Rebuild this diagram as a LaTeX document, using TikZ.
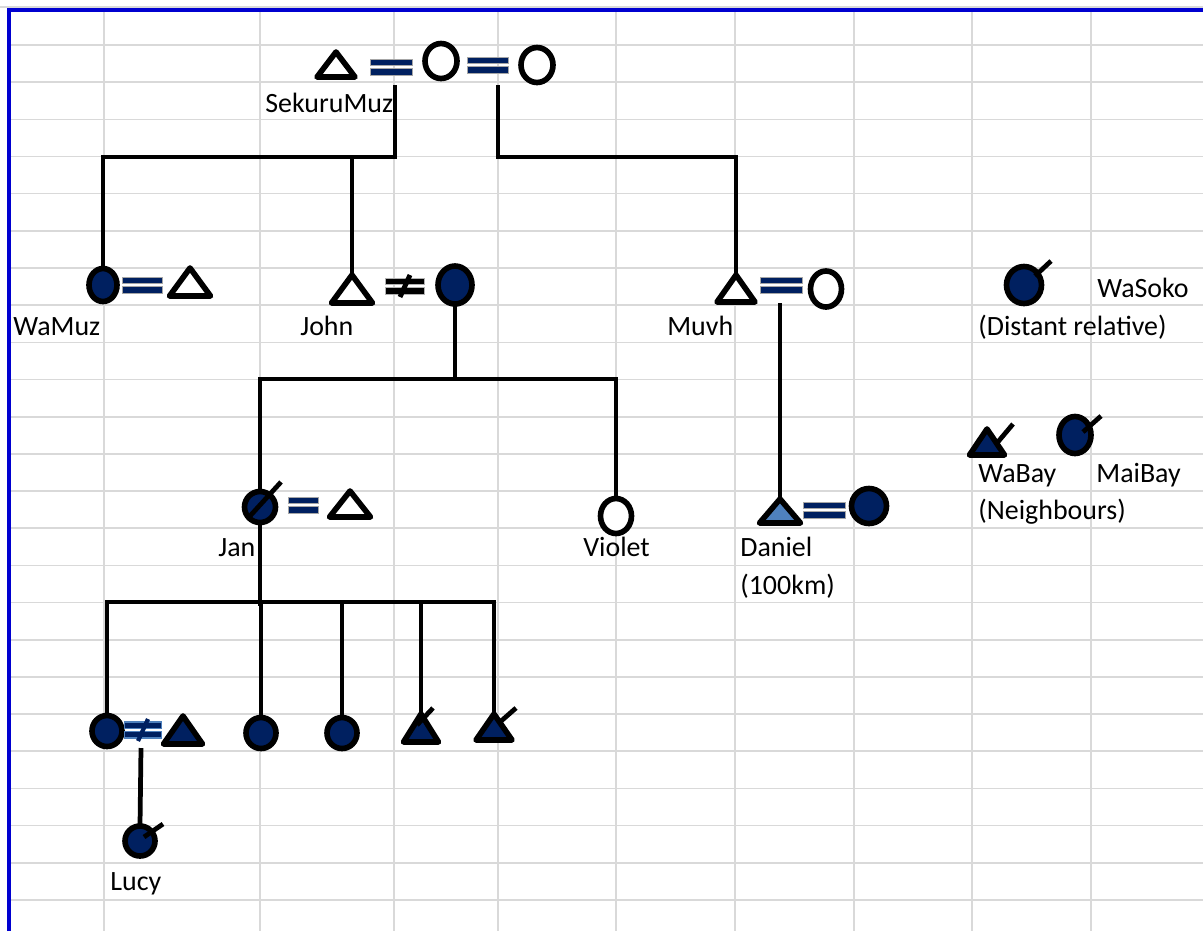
\documentclass[tikz,border=0pt]{standalone}
\usepackage{fontspec}
\setmainfont{Carlito}
\usetikzlibrary{shapes.geometric}

\definecolor{navy}{HTML}{002060}
\definecolor{steel}{HTML}{4F81BD}
\definecolor{gridgray}{HTML}{D9D9D9}
\definecolor{sheetblue}{HTML}{0000D0}

\tikzset{
	link/.style={line width=2.7pt},
	person/.style={draw, line width=3.2pt, inner sep=0pt, outer sep=0pt, fill=white},
	sz/.style 2 args={minimum width={(#1)*0.02cm}, minimum height={(#2)*0.02cm}},
	female/.style={person, ellipse},
	male/.style={person, isosceles triangle, isosceles triangle stretches, shape border rotate=90, line join=round},
	dark/.style={fill=navy},
	lbl/.style={font=\fontsize{15.9}{18}\selectfont, inner sep=0pt, anchor=base west},
	bar/.style={fill=navy, draw=gray!70, line width=0.5pt},
	slash/.style={line width=2.4pt, navy},
	barlen/.store in=\barlen, barlen=21,
	wed/.pic={
		\filldraw[bar] (-\barlen,-8) rectangle (\barlen,-1.5);
		\filldraw[bar] (-\barlen,1.5) rectangle (\barlen,8);
	},
	split/.pic={
		\filldraw[bar] (-\barlen,-8) rectangle (\barlen,-1.5);
		\filldraw[bar] (-\barlen,1.5) rectangle (\barlen,8);
		\draw[slash] (-5,11) -- (5,-11);
	}
}

\begin{document}
\begin{tikzpicture}[x=0.02cm, y=-0.02cm]
	\useasboundingbox (0,0) rectangle (1203,931);

	% sheet
	\foreach \gx in {104,260,394,498,616,735,854,972,1091}
		\draw[gridgray, line width=0.9pt] (\gx,10) -- (\gx,931);
	\foreach \k in {0,...,23}
		\draw[gridgray, line width=0.9pt] (9,{45+37.17*\k}) -- (1203,{45+37.17*\k});
	\draw[gridgray, line width=0.9pt] (0,7) -- (1203,7);
	\draw[sheetblue, line width=1.8pt] (9,931) -- (9,10) -- (1203,10);

	% grandparents
	\node[male, sz={38}{25}, anchor=apex] (sekuru) at (336,52) {};
	\pic at (391,67) {wed};
	\node[female, sz={32}{35}] (wife1) at (441,61) {};
	\pic[barlen=20.5] at (488,65) {wed};
	\node[female, sz={32}{35}] (wife2) at (537,65) {};
	\coordinate (stemA) at (395,85);
	\coordinate (stemB) at (498,85);
	\coordinate (busA) at (0,157);

	% children
	\node[female, dark, sz={28}{33}] (wamuz) at (103,285) {};
	\pic[barlen=20] at (142,285) {wed};
	\node[male, sz={41}{28}, anchor=apex] (wamuzh) at (190,268) {};
	\node[male, sz={41}{28}, anchor=apex] (john) at (352,275) {};
	\pic[barlen=19.5, bar/.style={fill=black, draw=gray!60, line width=0.5pt}, slash/.style={line width=2.8pt, black}] at (405,286) {split};
	\node[female, dark, sz={34}{38}] (johnw) at (455,285) {};
	\node[male, sz={38}{27}, anchor=apex] (muvh) at (736,275) {};
	\pic at (781,285) {wed};
	\node[female, sz={31}{36}] (muvhw) at (826,289) {};
	\coordinate (stemC) at (780,303);
	\coordinate (busB) at (0,379);

	\node[female, dark, sz={35}{37}] (wasoko) at (1024,285) {};
	\node[male, dark, sz={35}{26}, anchor=apex] (wabay) at (987,429) {};
	\node[female, dark, sz={32}{37}] (maibay) at (1075,435) {};

	% grandchildren
	\node[female, dark, sz={31}{31}] (jan) at (260,507) {};
	\pic[barlen=15] at (303,505) {wed};
	\node[male, sz={41}{26}, anchor=apex] (janh) at (350,491) {};
	\node[female, sz={31}{35}] (violet) at (616,516) {};
	\node[male, fill=steel, sz={41}{24}, anchor=apex] (daniel) at (780,499) {};
	\pic at (824,510) {wed};
	\node[female, dark, sz={35}{35}] (danielw) at (869,506) {};
	\coordinate (busC) at (0,602);

	\node[female, dark, sz={30}{31}] (kid1) at (107,731) {};
	\pic[barlen=18.5, bar/.style={fill=navy, draw=steel, line width=0.8pt}] at (143,730) {split};
	\node[male, dark, sz={39}{28}, anchor=apex] (kid1h) at (183,716) {};
	\node[female, dark, sz={30}{31}] (kid2) at (261,733) {};
	\node[female, dark, sz={30}{31}] (kid3) at (342,733) {};
	\node[male, dark, sz={35}{28}, anchor=apex] (kid4) at (421,714) {};
	\node[male, dark, sz={36}{26}, anchor=apex] (kid5) at (494,714) {};
	\coordinate (stemD) at (141,748);
	\node[female, dark, sz={30}{30}] (lucy) at (140,841) {};

	% lines of descent
	\draw[link] (stemA) |- (wamuz.north |- busA) -- (wamuz.north);
	\draw[link] (john.apex |- busA) -- (john.apex);
	\draw[link] (stemB) |- (muvh.apex |- busA) -- (muvh.apex);
	\draw[link] (johnw.south) -- (johnw.south |- busB);
	\draw[link] (jan.north) |- (violet.north |- busB) -- (violet.north);
	\draw[link] (stemC) -- (daniel.apex);
	\draw[link] (jan.south) -- ([yshift=-2pt]jan.south |- busC);
	\draw[link] (kid1.north) |- (kid5.apex |- busC) -- (kid5.apex);
	\foreach \k in {kid2.north, kid3.north, kid4.apex}
		\draw[link] (\k |- busC) -- (\k);
	\draw[link] (stemD) -- (lucy.north);

	% contact ticks
	\draw[link] ([shift={(11,-9)}]wasoko.center) -- ++(16,-15);
	\draw[link] ([shift={(-10,9)}]jan.center) -- ++(31,-34);
	\draw[link] ([shift={(4,-4)}]lucy.center) -- ++(19,-13);
	\draw[link] ([shift={(8,-3)}]maibay.center) -- ++(18,-16);
	\draw[link] ([shift={(10,14)}]wabay.apex) -- ++(16,-19);
	\draw[link] ([shift={(-4,11)}]kid4.apex) -- ++(16,-17);
	\draw[link] ([shift={(6,8)}]kid5.apex) -- ++(16,-14);

	% names
	\node[lbl] (tsekuru) at (265,112) {SekuruMuz};
	\node[lbl] (twamuz) at (13,335) {WaMuz};
	\node[lbl] (tjohn) at (300,335) {John};
	\node[lbl] (tmuvh) at (667,335) {Muvh};
	\node[lbl] (twasoko) at (1097,297) {WaSoko};
	\node[lbl] (tdistant) at (978,335) {(Distant relative)};
	\node[lbl] (twabay) at (978,482) {WaBay};
	\node[lbl] (tmaibay) at (1096,482) {MaiBay};
	\node[lbl] (tneigh) at (978,519) {(Neighbours)};
	\node[lbl] (tjan) at (218,556) {Jan};
	\node[lbl] (tviolet) at (583,556) {Violet};
	\node[lbl] (tdaniel) at (740,556) {Daniel};
	\node[lbl] (tdist) at (740,594) {(100km)};
	\node[lbl] (tlucy) at (110,890) {Lucy};
\end{tikzpicture}
\end{document}
